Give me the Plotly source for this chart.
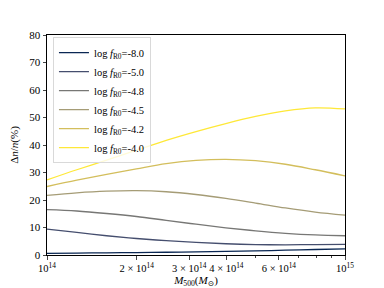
import plotly.graph_objects as go

log_mass = [14.0, 14.1, 14.2, 14.3, 14.4, 14.5, 14.6, 14.7, 14.8, 14.9, 15.0]
labels = ["-8.0", "-5.0", "-4.8", "-4.5", "-4.2", "-4.0"]
series = {
    "-8.0": [0.6, 0.7, 0.8, 0.9, 1.0, 1.15, 1.3, 1.5, 1.75, 2.0, 2.2],
    "-5.0": [9.4, 8.2, 7.0, 6.0, 5.2, 4.6, 4.1, 3.8, 3.7, 3.8, 3.9],
    "-4.8": [16.5, 16.0, 15.1, 14.0, 12.6, 11.2, 9.9, 8.8, 7.9, 7.3, 7.0],
    "-4.5": [21.7, 22.6, 23.2, 23.4, 23.0, 22.0, 20.6, 18.9, 17.1, 15.6, 14.5],
    "-4.2": [24.9, 27.2, 29.3, 31.3, 33.2, 34.4, 34.8, 34.3, 33.0, 31.0, 28.8],
    "-4.0": [27.3, 31.0, 34.5, 38.1, 41.7, 44.9, 47.8, 50.4, 52.4, 53.5, 53.1],
}
colors = ["#0a2753", "#454e6e", "#777775", "#a59c76", "#d3be5c", "#fee838"]

x_tickvals = [1e14, 2e14, 3e14, 4e14, 6e14, 1e15]
x_ticktext = ["10<sup>14</sup>", "2 × 10<sup>14</sup>", "3 × 10<sup>14</sup>",
              "4 × 10<sup>14</sup>", "6 × 10<sup>14</sup>", "10<sup>15</sup>"]
minor_vals = [5e14, 7e14, 8e14, 9e14]

masses = [10 ** v for v in log_mass]

fig = go.Figure()
for lab, col in zip(labels, colors):
    fig.add_trace(go.Scatter(
        x=masses, y=series[lab], mode="lines",
        line=dict(color=col, width=1.3, shape="spline"),
        name="log <i>f</i><sub>R0</sub>=" + lab,
    ))

font = "Liberation Serif, DejaVu Serif, serif"
fig.update_layout(
    width=384, height=288,
    margin=dict(l=47, r=39, t=35, b=33),
    paper_bgcolor="white", plot_bgcolor="white",
    font=dict(family=font, size=11, color="black"),
    showlegend=True,
    legend=dict(x=0.02, y=0.99, xanchor="left", yanchor="top",
                bgcolor="rgba(255,255,255,0.8)", bordercolor="#d9d9d9",
                borderwidth=1, font=dict(size=10.5), tracegroupgap=0,
                itemwidth=30),
    xaxis=dict(type="log", range=[14, 15], tickvals=x_tickvals,
               ticktext=x_ticktext, ticks="outside", ticklen=3.5,
               tickwidth=0.8, showgrid=False, zeroline=False,
               tickangle=0, automargin=False, tickfont=dict(size=10.5),
               showline=True, mirror=True, linecolor="black", linewidth=1,
               minor=dict(tickvals=minor_vals, ticks="outside", ticklen=2,
                          tickwidth=0.6, showgrid=False),
               title=dict(text="<i>M</i><sub>500</sub>(<i>M</i><sub>⊙</sub>)",
                          standoff=3, font=dict(size=11))),
    yaxis=dict(range=[0, 80], tickvals=[0, 10, 20, 30, 40, 50, 60, 70, 80],
               ticks="outside", ticklen=3.5, tickwidth=0.8, showgrid=False,
               zeroline=False, showline=True, mirror=True, linecolor="black",
               linewidth=1, automargin=False,
               title=dict(text="Δ<i>n</i>/<i>n</i>(%)", standoff=8,
                          font=dict(size=11))),
)

fig.write_html("out.html", config={"displayModeBar": False},
               post_script="document.body.style.margin='0';document.body.style.overflow='hidden';")
